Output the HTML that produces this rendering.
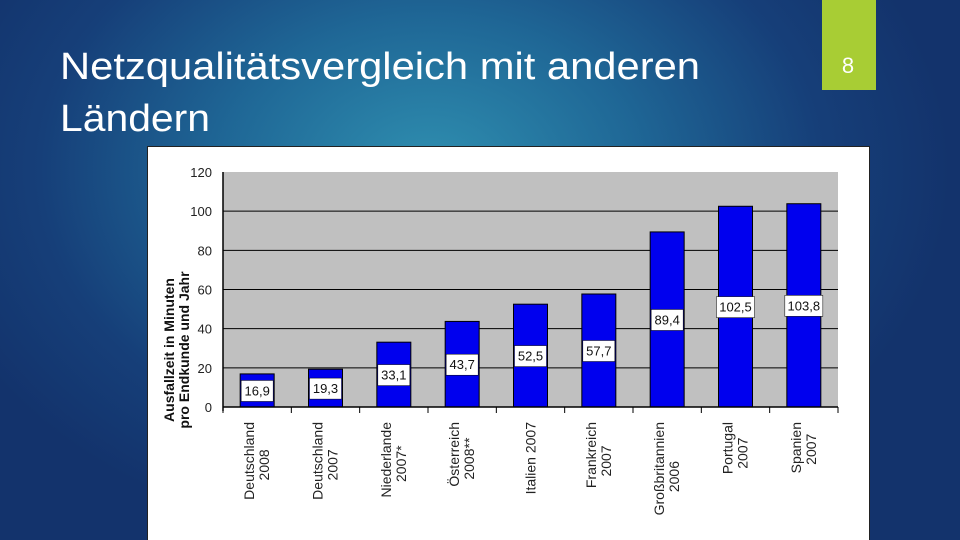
<!DOCTYPE html>
<html><head><meta charset="utf-8"><style>
html,body{margin:0;padding:0;width:960px;height:540px;overflow:hidden}
body{background:radial-gradient(ellipse 520px 380px at 430px 170px,#2f8fb0 0%,#1f6796 40%,#163f79 75%,#13336c 100%);font-family:"Liberation Sans",sans-serif}
</style></head><body>
<svg width="960" height="540" style="position:absolute;left:0;top:0">
<text x="60" y="79" fill="#fff" font-size="38" textLength="640" lengthAdjust="spacingAndGlyphs">Netzqualitätsvergleich mit anderen</text>
<text x="60" y="131" fill="#fff" font-size="38" textLength="150" lengthAdjust="spacingAndGlyphs">Ländern</text>
<rect x="822" y="0" width="54" height="90" fill="#a8cd34"/>
<text x="848" y="73" fill="#fff" font-size="22" text-anchor="middle">8</text>
<rect x="147.5" y="146.5" width="722" height="400" fill="#fff" stroke="#222"/>
<g id="chart"></g>
</svg>
<script>
const categories=[["Deutschland","2008"],["Deutschland","2007"],["Niederlande","2007*"],["Österreich","2008**"],["Italien 2007"],["Frankreich","2007"],["Großbritannien","2006"],["Portugal","2007"],["Spanien","2007"]];
const values=[16.9,19.3,33.1,43.7,52.5,57.7,89.4,102.5,103.8];
const valueLabels=["16,9","19,3","33,1","43,7","52,5","57,7","89,4","102,5","103,8"];
const yTicks=[0,20,40,60,80,100,120];
const NS="http://www.w3.org/2000/svg";
const g=document.getElementById('chart');
const X0=223,X1=838,Y0=407,Y1=172,YMAX=120;
const slot=(X1-X0)/categories.length;
const y=v=>Y0-(v/YMAX)*(Y0-Y1);
const xc=i=>X0+slot*(i+0.5);
function mk(tag,attrs,txt){const e=document.createElementNS(NS,tag);for(const k in attrs)e.setAttribute(k,attrs[k]);if(txt!==undefined)e.textContent=txt;g.appendChild(e);return e;}
let e=mk('rect',{x:X0,y:Y1,width:X1-X0,height:Y0-Y1,fill:'#c0c0c0'});


yTicks.forEach(t=>{
 if(t>0&&t<YMAX){const l=mk('line',{x1:X0,x2:X1,y1:y(t),y2:y(t),stroke:'#000','stroke-width':1});
 
 }
 const tx=mk('text',{x:X0-11,y:y(t)+5,'font-size':13,'text-anchor':'end',fill:'#222'},String(t));
 
 
});
values.forEach((v,i)=>{
 const b=mk('rect',{x:xc(i)-17,y:y(v),width:34,height:Y0-y(v),fill:'#0000ee',stroke:'#000','stroke-width':1});
 
 
 const ly=y(v/2);
 const w=valueLabels[i].length>4?38:32;
 const r=mk('rect',{x:xc(i)-w/2,y:ly-10,width:w,height:21,fill:'#fff',stroke:'#000','stroke-width':0.5});
 
 
 const t=mk('text',{x:xc(i),y:ly+5,'font-size':13,'text-anchor':'middle',fill:'#111'},valueLabels[i]);
 
 
 const lab=categories[i];
 const cx=xc(i),top=Y0+15;
 const tt=mk('text',{transform:`translate(${cx},${top}) rotate(-90)`,'font-size':14,'text-anchor':'end',fill:'#222'});
 
 
 const off=lab.length>1?-3:5;
 lab.forEach((s,k)=>{const ts=document.createElementNS(NS,'tspan');ts.setAttribute('x',k===0?0:(lab[0].length>s.length?-((lab[0].length-s.length)*3.9):0));ts.setAttribute('y',off+k*15);ts.textContent=s;tt.appendChild(ts);});
});
for(let i=0;i<=categories.length;i++){
 const t=mk('line',{x1:X0+slot*i,x2:X0+slot*i,y1:Y0,y2:Y0+6,stroke:'#000'});
 
 
}
e=mk('line',{x1:X0,x2:X1,y1:Y0,y2:Y0,stroke:'#000','stroke-width':1.5});


e=mk('line',{x1:X0,x2:X0,y1:Y1,y2:Y0+4,stroke:'#000','stroke-width':1.5});


const yt=mk('text',{transform:'translate(177,350) rotate(-90)','font-size':14,'font-weight':'bold','text-anchor':'middle',fill:'#111'});


[["Ausfallzeit in Minuten",-3],["pro Endkunde und Jahr",12]].forEach(([s,d])=>{const ts=document.createElementNS(NS,'tspan');ts.setAttribute('x',0);ts.setAttribute('y',d);ts.textContent=s;yt.appendChild(ts);});
</script>
</body></html>
